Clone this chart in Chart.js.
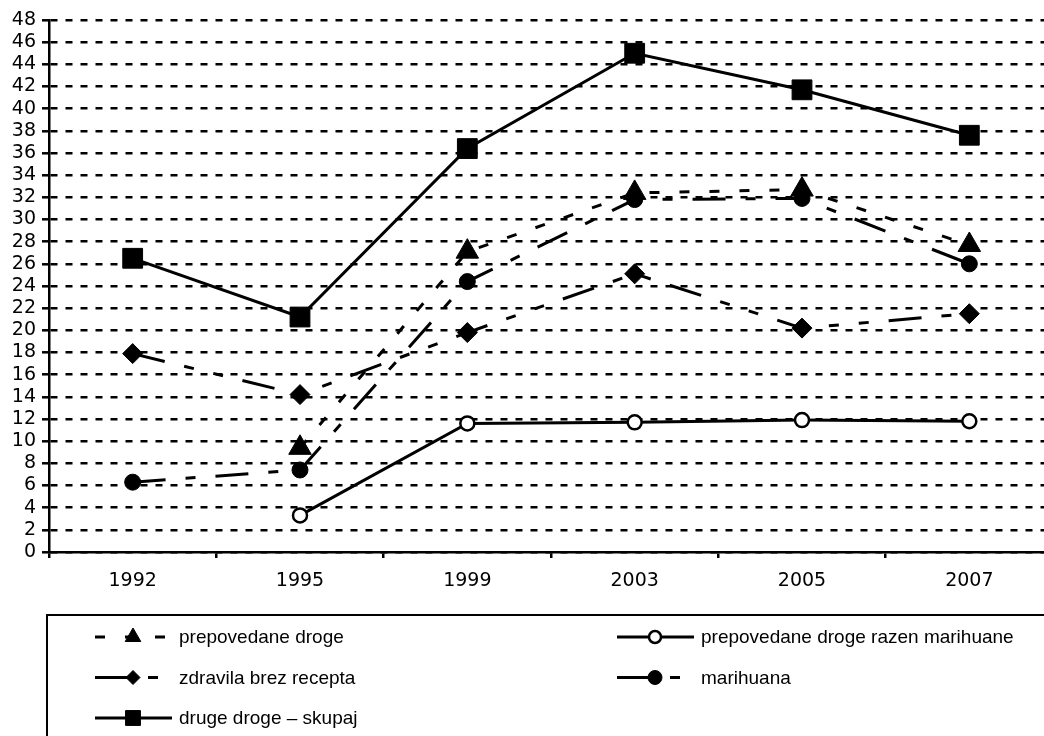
<!DOCTYPE html>
<html>
<head>
<meta charset="utf-8">
<script src="https://cdn.jsdelivr.net/npm/chart.js@4/dist/chart.umd.min.js"></script>
<style>
  html, body { margin: 0; padding: 0; background: #fff; overflow: hidden; }
  #wrap { width: 1068px; height: 736px; }
  #chart { display: block; }
</style>
</head>
<body>
<div id="wrap"><canvas id="chart" width="1068" height="736"></canvas></div>
<script>
// ================= DATA =================
const years = ["1992", "1995", "1999", "2003", "2005", "2007"];
const seriesNames = [
  "prepovedane droge",
  "prepovedane droge razen marihuane",
  "zdravila brez recepta",
  "marihuana",
  "druge droge \u2013 skupaj"
];
const prepovedane = [null, 9.4, 27.1, 32.4, 32.7, 27.7];
const razenMarihuane = [null, 3.3, 11.6, 11.7, 11.9, 11.8];
const zdravila = [17.9, 14.2, 19.8, 25.1, 20.2, 21.5];
const marihuana = [6.3, 7.4, 24.4, 31.8, 31.9, 26.0];
const drugeSkupaj = [26.5, 21.2, 36.4, 45.0, 41.7, 37.6];
const yMin = 0, yMax = 48, yStep = 2;

// ================= STYLE =================
const tickFont = { family: '"DejaVu Sans", sans-serif', size: 19 };
const legendFont = '19px "Liberation Sans", Arial, sans-serif';

function series(label, data, dash, pointStyle, radius, legendRadius, open) {
  return {
    label,
    data,
    borderColor: "#000",
    borderWidth: 3,
    borderDash: dash,
    pointStyle,
    pointRadius: radius,
    pointHoverRadius: radius,
    pointBackgroundColor: open ? "#fff" : "#000",
    pointBorderColor: "#000",
    pointBorderWidth: open ? 2.5 : 1,
    legendRadius,
    spanGaps: true,
    tension: 0
  };
}

const datasets = [
  series(seriesNames[0], prepovedane, [10, 20], "triangle", 13, 9, false),
  series(seriesNames[1], razenMarihuane, [], "circle", 7, 6, true),
  series(seriesNames[2], zdravila, [33, 20, 10, 20, 10, 20], "rectRot", 10, 7, false),
  series(seriesNames[3], marihuana, [33, 20, 10, 20], "circle", 8, 7, false),
  series(seriesNames[4], drugeSkupaj, [], "rect", 14, 10.5, false)
];

// ================= LEGEND (drawn on canvas) =================
const boxLegend = {
  id: "boxLegend",
  afterDraw(chart) {
    const ctx = chart.ctx;
    ctx.save();
    ctx.setLineDash([]);
    ctx.lineWidth = 2;
    ctx.strokeStyle = "#000";
    ctx.strokeRect(47, 615, chart.width + 20, 200);

    ctx.font = legendFont;
    ctx.textBaseline = "middle";
    chart.data.datasets.forEach((ds, i) => {
      const col = i % 2;
      const row = Math.floor(i / 2);
      const x0 = col ? 617 : 95;
      const y = 637 + row * 40.5;

      ctx.beginPath();
      ctx.lineWidth = ds.borderWidth;
      ctx.strokeStyle = ds.borderColor;
      ctx.setLineDash(ds.borderDash);
      ctx.moveTo(x0, y);
      ctx.lineTo(x0 + 77, y);
      ctx.stroke();
      ctx.setLineDash([]);

      ctx.fillStyle = ds.pointBackgroundColor;
      ctx.strokeStyle = ds.pointBorderColor;
      ctx.lineWidth = ds.pointBorderWidth;
      Chart.helpers.drawPoint(ctx, {
        pointStyle: ds.pointStyle,
        radius: ds.legendRadius,
        rotation: 0,
        borderWidth: ds.pointBorderWidth
      }, x0 + 38, y);

      ctx.fillStyle = "#000";
      ctx.fillText(ds.label, x0 + 84, y + 1);
    });
    ctx.restore();
  }
};

// ================= CHART =================
// canvas is a bit wider than the window: the original plot runs past the right edge
new Chart(document.getElementById("chart"), {
  type: "line",
  data: { labels: years, datasets },
  options: {
    responsive: false,
    devicePixelRatio: 1,
    animation: false,
    layout: { padding: { top: 20, right: 0, bottom: 144, left: 0 } },
    plugins: {
      legend: { display: false },
      tooltip: { enabled: false }
    },
    scales: {
      x: {
        type: "category",
        offset: true,
        afterFit: s => { s.height = 40; },
        grid: {
          offset: true,
          drawOnChartArea: false,
          tickLength: 6,
          color: "#000",
          lineWidth: 2.5
        },
        border: { color: "#000", width: 2.5 },
        ticks: { color: "#000", font: tickFont, padding: 12, maxRotation: 0, autoSkip: false }
      },
      y: {
        min: yMin,
        max: yMax,
        afterFit: s => { s.width = 49; },
        grid: {
          color: "#000",
          lineWidth: 2.6,
          tickLength: 7,
          tickWidth: 2.5,
          tickBorderDash: []
        },
        border: { color: "#000", width: 2.5, dash: [7, 8] },
        ticks: { stepSize: yStep, color: "#000", font: tickFont, padding: 6, autoSkip: false }
      }
    }
  },
  plugins: [boxLegend]
});
</script>
</body>
</html>
